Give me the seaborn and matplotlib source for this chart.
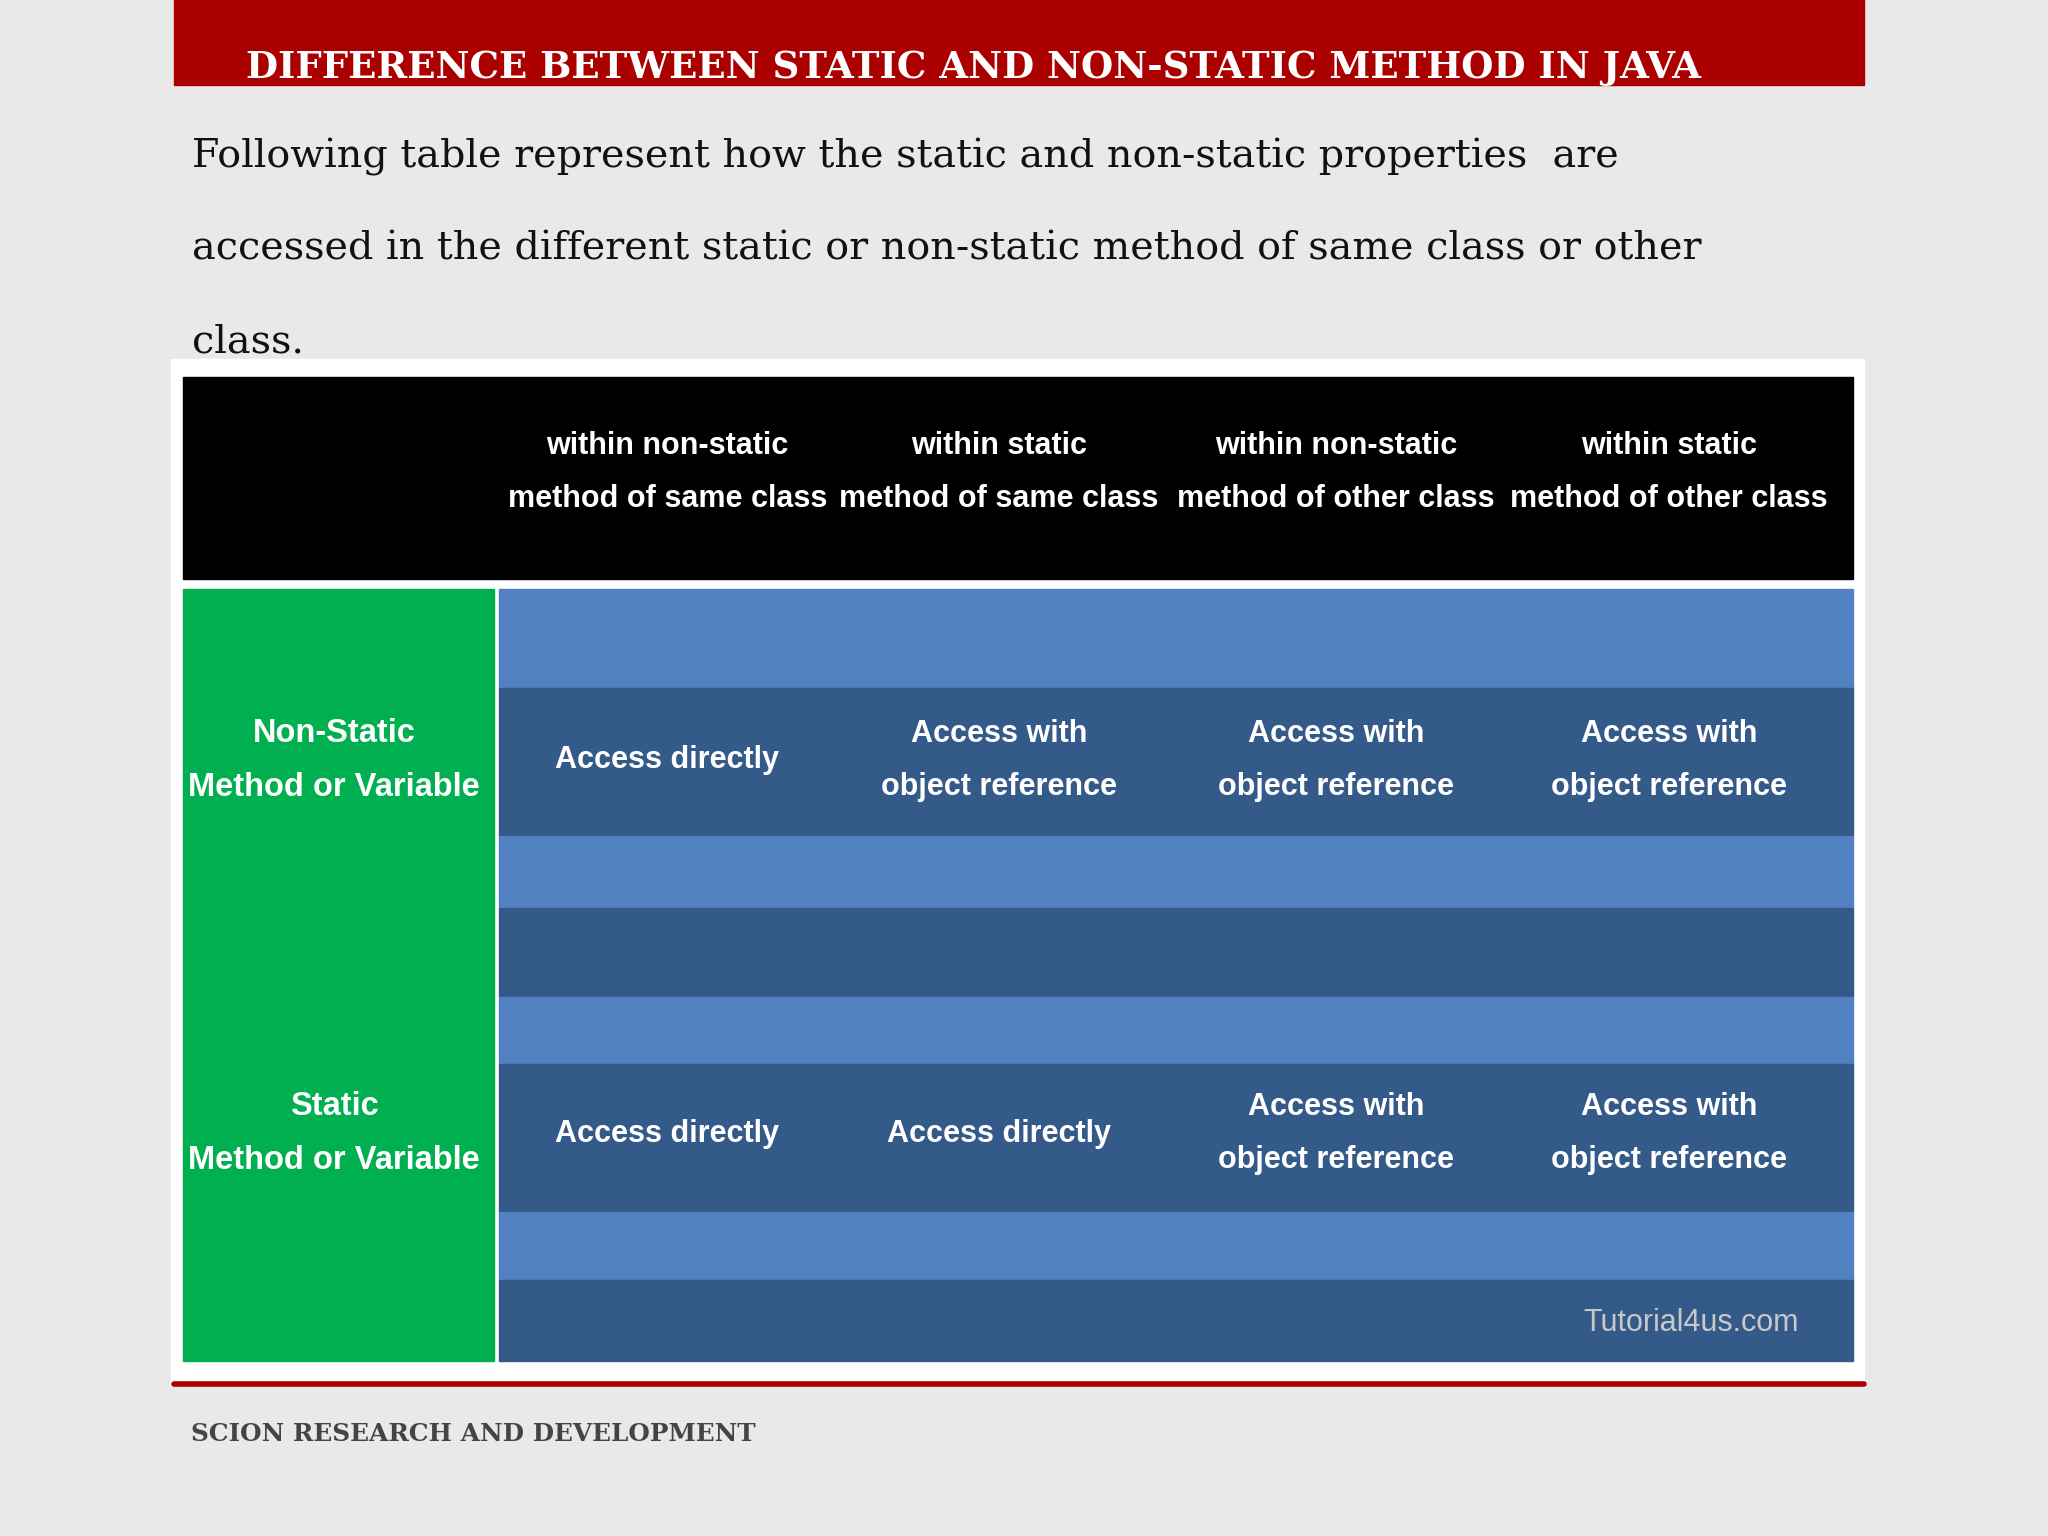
import numpy as np
import seaborn as sns
import matplotlib.pyplot as plt
from matplotlib.patches import Rectangle

sns.set_style("white")

# slide texts
title = "DIFFERENCE BETWEEN STATIC AND NON-STATIC METHOD IN JAVA"
intro_lines = [
    "Following table represent how the static and non-static properties  are",
    "accessed in the different static or non-static method of same class or other",
    "class.",
]
footer = "SCION RESEARCH AND DEVELOPMENT"

# table contents
col_headers = [
    "within non-static\nmethod of same class",
    "within static\nmethod of same class",
    "within non-static\nmethod of other class",
    "within static\nmethod of other class",
]
row_headers = ["Non-Static\nMethod or Variable", "Static\nMethod or Variable"]
cells = [
    ["Access directly", "Access with\nobject reference", "Access with\nobject reference", "Access with\nobject reference"],
    ["Access directly", "Access directly", "Access with\nobject reference", "Access with\nobject reference"],
]
watermark = "Tutorial4us.com"

# stripe bands of the body (top, bottom, shade)
band_edges = [451, 527, 640, 695, 763, 815, 928, 980, 1042]
band_shade = ["light", "dark", "light", "dark", "light", "dark", "light", "dark"]

LIGHT, DARK = "#5181c1", "#335a88"
GREEN, RED = "#00b050", "#aa0000"
narrow = ["Liberation Sans Narrow", "Liberation Sans", "DejaVu Sans"]

fig = plt.figure(figsize=(20.48, 15.36), dpi=100)
ax = fig.add_axes([0, 0, 1, 1])
ax.set_xlim(0, 1568)
ax.set_ylim(1176, 0)
ax.axis("off")
fig.patch.set_facecolor("#e9e9e9")

# header bar
ax.add_patch(Rectangle((133, 0), 1294, 65, color=RED))
ax.text(188, 60, title, color="white", fontsize=26.7, fontweight="bold",
        family="DejaVu Serif", va="baseline")

for i, line in enumerate(intro_lines):
    ax.text(147, 128 + i * 71, line, fontsize=28.5, family="DejaVu Serif",
            color="#111111", va="baseline")

# table frame
ax.add_patch(Rectangle((131, 275), 1296, 785, color="white"))
ax.add_patch(Rectangle((140, 289), 1279, 154, color="black"))
ax.add_patch(Rectangle((140, 451), 238, 591, color=GREEN))
for top, bot, shade in zip(band_edges[:-1], band_edges[1:], band_shade):
    ax.add_patch(Rectangle((382, top), 1037, bot - top, color=LIGHT if shade == "light" else DARK))
ax.plot([133, 1427], [1060, 1060], color=RED, lw=4)

col_x = [511, 765, 1023, 1278]
row_y = [582, 868]
hdr_kw = dict(color="white", fontweight="bold", family=narrow, ha="center", va="center")
for x, h in zip(col_x, col_headers):
    ax.text(x, 362, h, fontsize=22, linespacing=2.0, **hdr_kw)
for y, h in zip(row_y, row_headers):
    ax.text(256, y, h, fontsize=23.5, linespacing=1.95, **hdr_kw)
for y, row in zip(row_y, cells):
    for x, c in zip(col_x, row):
        ax.text(x, y, c, fontsize=22, linespacing=2.0, **hdr_kw)
ax.text(1295, 1013, watermark, fontsize=22, color="#c8c8c8", family=narrow,
        ha="center", va="center")

ax.text(146, 1098, footer, fontsize=17.8, fontweight="bold", family="DejaVu Serif",
        color="#444444", va="center")

fig.savefig("out.png", dpi=100)
